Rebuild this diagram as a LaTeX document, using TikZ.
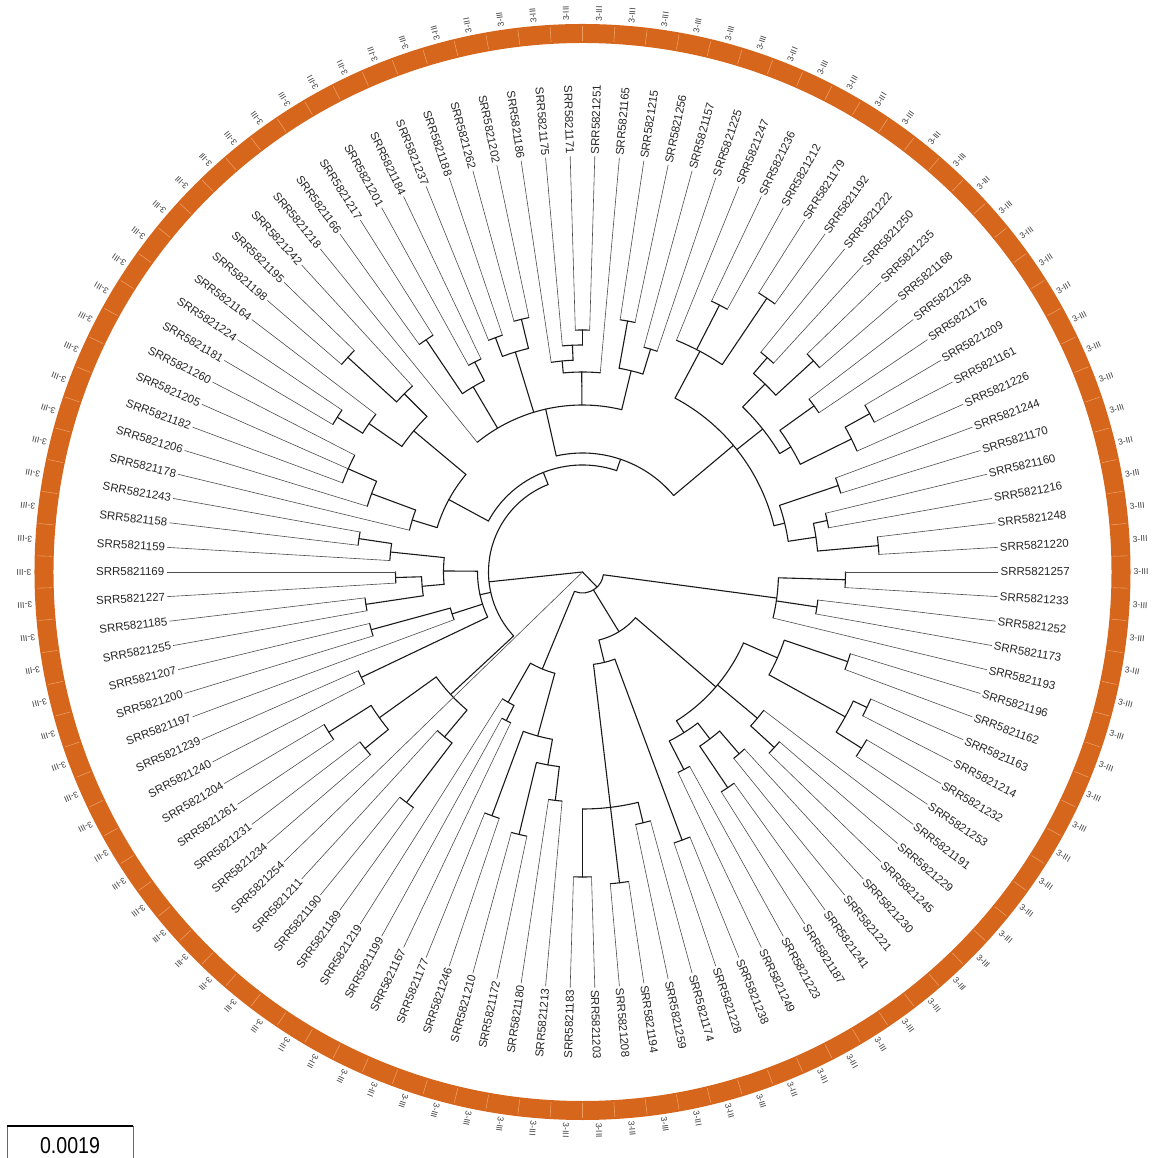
\documentclass[tikz,border=0pt]{standalone}
\usepackage{fontspec}
\setmainfont{Liberation Sans}
\definecolor{ringc}{RGB}{214,102,28}
\definecolor{ringsep}{RGB}{238,156,98}
\makeatletter
\newcommand\LeafR{416}
\newcommand\Lf[2]{%
  \pgfmathsetmacro\t@a{#2*3.396226}%
  \expandafter\xdef\csname A@s#1\endcsname{\t@a}%
  \expandafter\gdef\csname S@s#1\endcsname{lf}%
  \coordinate (s#1) at (\t@a:\LeafR);
  \pgfmathtruncatemacro\t@f{((\t@a>90)&&(\t@a<270))?1:0}%
  \ifnum\t@f=1
    \pgfmathsetmacro\t@b{\t@a+180}%
    \node[lab,anchor=east,rotate=\t@b] (l#1) at (\t@a:418) {SRR5821#1};
  \else
    \node[lab,anchor=west,rotate=\t@a] (l#1) at (\t@a:418) {SRR5821#1};
  \fi
  \node[cls,anchor=west,rotate=\t@a] (c#1) at (\t@a:551) {3-III};
}
\newcommand\Cl[4][]{%
  \def\c@first{}%
  \@for\c@x:=#4\do{\ifx\c@first\@empty\edef\c@first{\c@x}\fi\edef\c@last{\c@x}}%
  \pgfmathsetmacro\c@s{\csname A@\c@first\endcsname}%
  \pgfmathsetmacro\c@e{\csname A@\c@last\endcsname}%
  \def\c@ov{#1}%
  \ifx\c@ov\@empty
    \pgfmathsetmacro\c@a{(\c@s+\c@e)/2}%
  \else
    \def\c@a{#1}%
  \fi
  \expandafter\xdef\csname A@#2\endcsname{\c@a}%
  \expandafter\gdef\csname S@#2\endcsname{br}%
  \coordinate (#2) at (\c@a:#3);
  \draw[br] (\c@s:#3) arc[start angle=\c@s,end angle=\c@e,radius=#3];
  \@for\c@x:=#4\do{%
    \pgfmathsetmacro\c@ca{\csname A@\c@x\endcsname}%
    \edef\c@tmp{\noexpand\draw[\csname S@\c@x\endcsname] (\c@ca:#3) -- (\c@x);}%
    \c@tmp}%
}
\makeatother
\begin{document}
\begin{tikzpicture}[x=1pt,y=1pt,
  lab/.style={inner sep=0pt,text=black!85,font=\fontsize{11.5}{12}\selectfont},
  cls/.style={inner sep=0pt,text=black!75,font=\fontsize{8.6}{9}\selectfont},
  br/.style={line width=1.1pt,black!90,line cap=round},
  lf/.style={line width=0.6pt,black!70}]
\useasboundingbox (-582.5,-586) rectangle (576.5,572);
% ring
\coordinate (rc) at (0,0);
\draw[ringc,line width=19pt] (rc) circle[radius=538.5];
\foreach \i in {0,...,105}{
  \pgfmathsetmacro\sa{(\i+0.5)*3.396226}
  \draw[ringsep,line width=0.6pt] (\sa:531) -- (\sa:546);
}
% leaves
\Lf{220}{1}\Lf{248}{2}\Lf{216}{3}\Lf{160}{4}\Lf{170}{5}\Lf{244}{6}
\Lf{226}{7}\Lf{161}{8}\Lf{209}{9}\Lf{176}{10}\Lf{258}{11}\Lf{168}{12}\Lf{235}{13}
\Lf{250}{14}\Lf{222}{15}\Lf{192}{16}\Lf{179}{17}\Lf{212}{18}\Lf{236}{19}\Lf{247}{20}
\Lf{225}{21}\Lf{157}{22}\Lf{256}{23}\Lf{215}{24}\Lf{165}{25}\Lf{251}{26}\Lf{171}{27}
\Lf{175}{28}\Lf{186}{29}\Lf{202}{30}\Lf{262}{31}\Lf{188}{32}\Lf{237}{33}\Lf{184}{34}
\Lf{201}{35}\Lf{217}{36}\Lf{166}{37}\Lf{218}{38}\Lf{242}{39}\Lf{195}{40}\Lf{198}{41}
\Lf{164}{42}\Lf{224}{43}\Lf{181}{44}\Lf{260}{45}\Lf{205}{46}\Lf{182}{47}\Lf{206}{48}
\Lf{178}{49}\Lf{243}{50}\Lf{158}{51}\Lf{159}{52}\Lf{169}{53}\Lf{227}{54}\Lf{185}{55}
\Lf{255}{56}\Lf{207}{57}\Lf{200}{58}\Lf{197}{59}\Lf{239}{60}\Lf{240}{61}\Lf{204}{62}
\Lf{261}{63}\Lf{231}{64}\Lf{234}{65}\Lf{254}{66}\Lf{211}{67}\Lf{190}{68}\Lf{189}{69}
\Lf{219}{70}\Lf{199}{71}\Lf{167}{72}\Lf{177}{73}\Lf{246}{74}\Lf{210}{75}\Lf{172}{76}
\Lf{180}{77}\Lf{213}{78}\Lf{183}{79}\Lf{203}{80}\Lf{208}{81}\Lf{194}{82}\Lf{259}{83}
\Lf{174}{84}\Lf{228}{85}\Lf{238}{86}\Lf{249}{87}\Lf{223}{88}\Lf{187}{89}\Lf{241}{90}
\Lf{221}{91}\Lf{230}{92}\Lf{245}{93}\Lf{229}{94}\Lf{191}{95}\Lf{253}{96}\Lf{232}{97}
\Lf{214}{98}\Lf{163}{99}\Lf{162}{100}\Lf{196}{101}
\Lf{193}{102}\Lf{173}{103}\Lf{252}{104}\Lf{233}{105}\Lf{257}{106}
% clades
\Cl{X1}{263}{s233,s257}
\Cl{X2}{237}{s173,s252}
\Cl{R1}{196}{s193,X2,X1}
\Cl{n1}{297}{s220,s248}
\Cl{n2}{250}{s216,s160}
\Cl{n3}{236}{n1,n2}
\Cl{n4}{270}{s170,s244}
\Cl{n5}{208}{n3,n4}
\Cl{n6}{328}{s161,s209}
\Cl{n7}{300}{s226,n6}
\Cl{n8}{285}{s176,s258}
\Cl{n9}{243}{n7,n8}
\Cl{n10}{313}{s168,s235}
\Cl{n11}{283}{s250,s222}
\Cl{n12}{262}{n10,n11}
\Cl{n13}{230}{n9,n12}
\Cl{n14}{330}{s192,s179}
\Cl{n15}{300}{s212,s236}
\Cl{n16}{250}{n14,n15,s247}
\Cl[40]{URC}{197}{n5,n13,n16}
\Cl{t1}{233}{s225,s157}
\Cl{t2}{255}{s256,s215}
\Cl{t3}{207}{t1,t2}
\Cl{t4}{242}{s251,s171}
\Cl{t5}{227}{t4,s175}
\Cl{t6}{212}{t5,s186}
\Cl{t7}{200}{s165,t6}
\Cl{t8}{186}{t7}
\Cl{t9}{260}{s202,s262}
\Cl{t10}{250}{s188,s237}
\Cl{t11}{230}{t9,t10}
\Cl{t12}{236}{s184,s201}
\Cl{t13}{280}{s217,s166}
\Cl{t14}{215}{t12,t13}
\Cl{T}{167}{t3,t8,t11,t14,s218}
\Cl{C}{119}{URC,T}
\Cl{d1}{318}{s195,s198}
\Cl{d2}{252}{s242,d1}
\Cl{d3}{290}{s224,s181}
\Cl{d4}{260}{s164,d3}
\Cl{d5}{220}{d2,d4}
\Cl{d6}{256}{s260,s205,s182}
\Cl{d7}{225}{d6,s206}
\Cl{d8}{178}{d7,s178}
\Cl{D}{152}{d5,d8}
\Cl{B}{107}{C,D}
\Cl{L1}{226}{s243,s158}
\Cl{L2}{193}{L1,s159}
\Cl{L3}{187}{s169,s227}
\Cl{L4}{219}{s185,s255}
\Cl{L5}{161}{L3,L4}
\Cl{L6}{139}{L2,L5}
\Cl{L7}{219}{s207,s200}
\Cl{L10}{137}{L7,s197}
\Cl{L8}{245}{s239,s240}
\Cl{L11}{105}{L6,L10,L8}
\Cl{L12}{290}{s190,s189}
\Cl{L13}{215}{s211,L12}
\Cl{L14}{300}{s204,s261}
\Cl{L15}{280}{s231,s234}
\Cl{L16}{250}{L14,L15}
\Cl{L17}{180}{L16,L13}
\Cl[186]{A}{94}{B,L11,L17}
\Cl{b1}{167}{s199,s167}
\Cl{b2}{150}{s219,b1}
\Cl{b3}{260}{s177,s246}
\Cl{b4}{270}{s210,s172}
\Cl{b5}{230}{s180,s213}
\Cl{b6}{196}{b4,b5}
\Cl{b7}{170}{b3,b6}
\Cl{Db}{105}{b2,b7}
\Cl{g1}{305}{s183,s203}
\Cl{g2}{313}{s208,s194}
\Cl{g3}{258}{s259,s174}
\Cl{Nb}{237}{g1,g2,g3}
\Cl{g4}{286}{s228,s238}
\Cl{E1}{93}{Nb,g4}
\Cl{e1}{222}{s249,s223}
\Cl{e2}{260}{s187,s241}
\Cl{e3}{240}{s221,s230}
\Cl{e4}{210}{e2,e3}
\Cl{e5}{190}{e1,e4}
\Cl{e6}{260}{s245,s229}
\Cl{e7}{228}{e6,s191}
\Cl{e8}{330}{s253,s232}
\Cl{e9}{315}{s214,s163}
\Cl{e10}{300}{e8,e9}
\Cl{e12}{280}{s162,s196}
\Cl{e11}{213}{e10,e12}
\Cl{E2}{176}{e5,e7,e11}
\Cl{E}{70}{E1,E2}
\Cl[314]{bot}{21}{Db,E,R1}
\coordinate (root) at (0,0);
\draw[br] (root) -- (A);
\draw[br] (root) -- (bot);
\draw[lf] (root) -- (s254);
% scale bar
\coordinate (sb1) at (-575.5,-554);
\coordinate (sb2) at (-449.5,-554);
\coordinate (sb3) at (-575.5,-586);
\coordinate (sb4) at (-449.5,-586);
\draw[black!60,line width=0.8pt] (sb1) -- (sb3);
\draw[black!60,line width=0.8pt] (sb2) -- (sb4);
\draw[black,line width=1.6pt] (sb1) -- (sb2);
\node[inner sep=0pt,xscale=0.85,font=\fontsize{23}{23}\selectfont] (sbl) at (-512.5,-574) {0.0019};
\end{tikzpicture}
\end{document}
